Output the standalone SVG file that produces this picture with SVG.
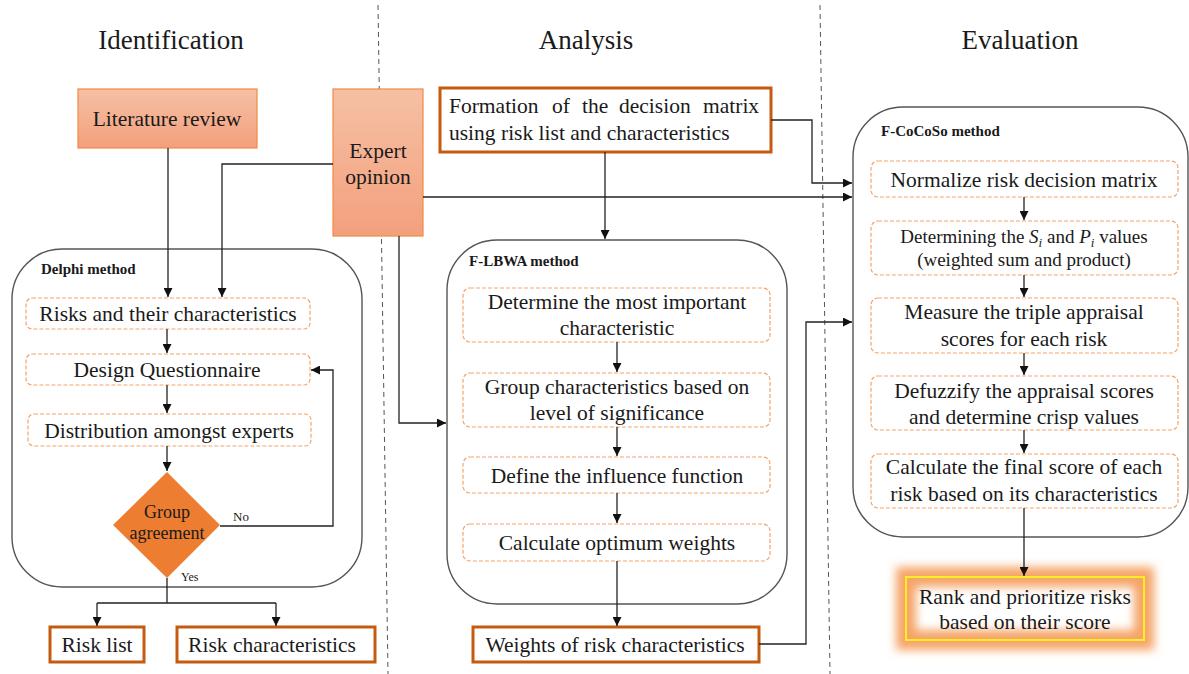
<svg xmlns="http://www.w3.org/2000/svg" width="1189" height="674" viewBox="0 0 1189 674">
<style>
.t{font-family:"Liberation Serif","Times New Roman",serif;fill:#1a1a1a;}
.m{font-size:21.5px;text-anchor:middle;}
.h{font-size:27px;text-anchor:middle;}
.b{font-size:15px;font-weight:bold;}
.step{fill:#fff;stroke:#f4a36c;stroke-width:1.2;stroke-dasharray:4,2;}
.cont{fill:#fff;stroke:#555;stroke-width:1.4;}
.out{fill:#fff;stroke:#c55a11;stroke-width:3;}
.src{fill:url(#sal);stroke:#f08a45;stroke-width:1.2;}
.c{fill:none;stroke:#222;stroke-width:1.3;marker-end:url(#ah);}
.cn{fill:none;stroke:#222;stroke-width:1.3;}
.sep{stroke:#555;stroke-width:1;stroke-dasharray:5,4;}
</style>
<defs>
<linearGradient id="sal" x1="0" y1="0" x2="0" y2="1">
<stop offset="0" stop-color="#f6c0a5"/>
<stop offset="1" stop-color="#f3a07c"/>
</linearGradient>
<marker id="ah" viewBox="0 0 10 10" refX="10" refY="5" markerWidth="9" markerHeight="9" markerUnits="userSpaceOnUse" orient="auto">
<path d="M0,0 L10,5 L0,10 z" fill="#111"/>
</marker>
<filter id="glow" x="-30%" y="-60%" width="160%" height="220%">
<feGaussianBlur stdDeviation="5"/>
</filter>
</defs>
<rect width="1189" height="674" fill="#fff"/>

<g id="separators">
<line class="sep" x1="378" y1="5" x2="388" y2="674"/>
<line class="sep" x1="820" y1="5" x2="830" y2="674"/>
</g>

<g id="headers">
<text class="t h" x="171" y="49">Identification</text>
<text class="t h" x="586" y="49">Analysis</text>
<text class="t h" x="1020" y="49">Evaluation</text>
</g>

<g id="delphi-container">
<rect class="cont" x="12" y="249" width="350" height="338" rx="50"/>
<text class="t b" x="41" y="274">Delphi method</text>
</g>
<g id="lbwa-container">
<rect class="cont" x="447" y="240" width="340" height="364" rx="50"/>
<text class="t b" x="469" y="266">F-LBWA method</text>
</g>
<g id="cocoso-container">
<rect class="cont" x="853" y="107" width="335" height="430" rx="50"/>
<text class="t b" x="881" y="136">F-CoCoSo method</text>
</g>

<g id="literature-review">
<rect class="src" x="78" y="89" width="179" height="59"/>
<text class="t m" x="167" y="126">Literature review</text>
</g>
<g id="expert-opinion">
<rect class="src" x="333" y="89" width="90" height="147"/>
<text class="t m" x="378" y="158">Expert</text>
<text class="t m" x="378" y="184">opinion</text>
</g>
<g id="formation">
<rect class="out" x="440" y="88" width="331" height="64"/>
<text class="t" font-size="21.5" y="113"><tspan x="449">Formation</tspan><tspan x="552">of</tspan><tspan x="582">the</tspan><tspan x="619">decision</tspan><tspan x="703">matrix</tspan></text>
<text class="t" font-size="21.5" x="449" y="140">using risk list and characteristics</text>
</g>

<g id="risks-characteristics">
<rect class="step" x="26" y="298" width="284" height="31" rx="6"/>
<text class="t m" x="168" y="321">Risks and their characteristics</text>
</g>
<g id="design-questionnaire">
<rect class="step" x="26" y="354" width="284" height="31" rx="6"/>
<text class="t m" x="167" y="377">Design Questionnaire</text>
</g>
<g id="distribution">
<rect class="step" x="28" y="414" width="283" height="32" rx="6"/>
<text class="t m" x="169" y="438">Distribution amongst experts</text>
</g>
<g id="group-agreement">
<polygon points="167,472 220,525 167,578 113,525" fill="#ed7d31"/>
<text class="t" font-size="18" text-anchor="middle" x="167" y="518">Group</text>
<text class="t" font-size="18" text-anchor="middle" x="167" y="539">agreement</text>
</g>
<g id="risk-list">
<rect class="out" x="50" y="627" width="94" height="35"/>
<text class="t m" x="97" y="652">Risk list</text>
</g>
<g id="risk-char">
<rect class="out" x="177" y="627" width="198" height="35"/>
<text class="t m" x="272" y="652">Risk characteristics</text>
</g>

<g id="determine-important">
<rect class="step" x="463" y="288" width="307" height="54" rx="7"/>
<text class="t m" x="617" y="309">Determine the most important</text>
<text class="t m" x="617" y="335">characteristic</text>
</g>
<g id="group-characteristics">
<rect class="step" x="463" y="373" width="307" height="54" rx="7"/>
<text class="t m" x="617" y="394">Group characteristics based on</text>
<text class="t m" x="617" y="420">level of significance</text>
</g>
<g id="influence-function">
<rect class="step" x="463" y="457" width="307" height="36" rx="7"/>
<text class="t m" x="617" y="483">Define the influence function</text>
</g>
<g id="optimum-weights">
<rect class="step" x="463" y="524" width="307" height="37" rx="7"/>
<text class="t m" x="617" y="550">Calculate optimum weights</text>
</g>
<g id="weights">
<rect class="out" x="473" y="627" width="286" height="35"/>
<text class="t m" x="615" y="652">Weights of risk characteristics</text>
</g>

<g id="normalize">
<rect class="step" x="871" y="161" width="307" height="36" rx="7"/>
<text class="t m" x="1024" y="187">Normalize risk decision matrix</text>
</g>
<g id="si-pi">
<rect class="step" x="871" y="221" width="307" height="54" rx="7"/>
<text class="t" font-size="19" text-anchor="middle" x="1024" y="243">Determining the <tspan font-style="italic">S</tspan><tspan font-style="italic" font-size="13" dy="4">i</tspan><tspan dy="-4"> and </tspan><tspan font-style="italic">P</tspan><tspan font-style="italic" font-size="13" dy="4">i</tspan><tspan dy="-4"> values</tspan></text>
<text class="t" font-size="19" text-anchor="middle" x="1024" y="266">(weighted sum and product)</text>
</g>
<g id="triple-appraisal">
<rect class="step" x="871" y="298" width="307" height="55" rx="7"/>
<text class="t m" x="1024" y="319">Measure the triple appraisal</text>
<text class="t m" x="1024" y="346">scores for each risk</text>
</g>
<g id="defuzzify">
<rect class="step" x="871" y="376" width="307" height="54" rx="7"/>
<text class="t m" x="1024" y="398">Defuzzify the appraisal scores</text>
<text class="t m" x="1024" y="424">and determine crisp values</text>
</g>
<g id="final-score">
<rect class="step" x="871" y="454" width="307" height="54" rx="7"/>
<text class="t m" x="1024" y="474">Calculate the final score of each</text>
<text class="t m" x="1024" y="501">risk based on its characteristics</text>
</g>
<g id="rank">
<rect x="906" y="577" width="238" height="63" fill="#fff"/>
<rect x="906" y="577" width="238" height="63" fill="none" stroke="#f5a468" stroke-width="20" filter="url(#glow)"/>
<rect x="906" y="577" width="238" height="63" fill="none" stroke="#ffee22" stroke-width="2"/>
<text class="t m" x="1025" y="604">Rank and prioritize risks</text>
<text class="t m" x="1025" y="629">based on their score</text>
</g>

<g id="connectors">
<path class="c" d="M168,148 V297"/>
<path class="c" d="M333,164 H222 V297"/>
<path class="c" d="M423,197 H852"/>
<path class="c" d="M399,236 V423 H446"/>
<path class="c" d="M605,152 V239"/>
<path class="c" d="M771,120 H812 V183 H852"/>
<path class="c" d="M759,644 H806 V322 H852"/>
<path class="c" d="M167,329 V353"/>
<path class="c" d="M167,385 V413"/>
<path class="c" d="M167,446 V471"/>
<path class="c" d="M220,526 H333 V370 H311"/>
<path class="cn" d="M167,578 V603 M97,603 H276"/>
<path class="c" d="M97,603 V626"/>
<path class="c" d="M276,603 V626"/>
<path class="c" d="M617,342 V372"/>
<path class="c" d="M617,427 V456"/>
<path class="c" d="M617,493 V523"/>
<path class="c" d="M617,561 V626"/>
<path class="c" d="M1024,197 V220"/>
<path class="c" d="M1024,275 V297"/>
<path class="c" d="M1024,353 V375"/>
<path class="c" d="M1024,430 V453"/>
<path class="c" d="M1024,508 V576"/>
<text class="t" font-size="13" x="233" y="521">No</text>
<text class="t" font-size="12" x="181" y="581">Yes</text>
</g>
</svg>
